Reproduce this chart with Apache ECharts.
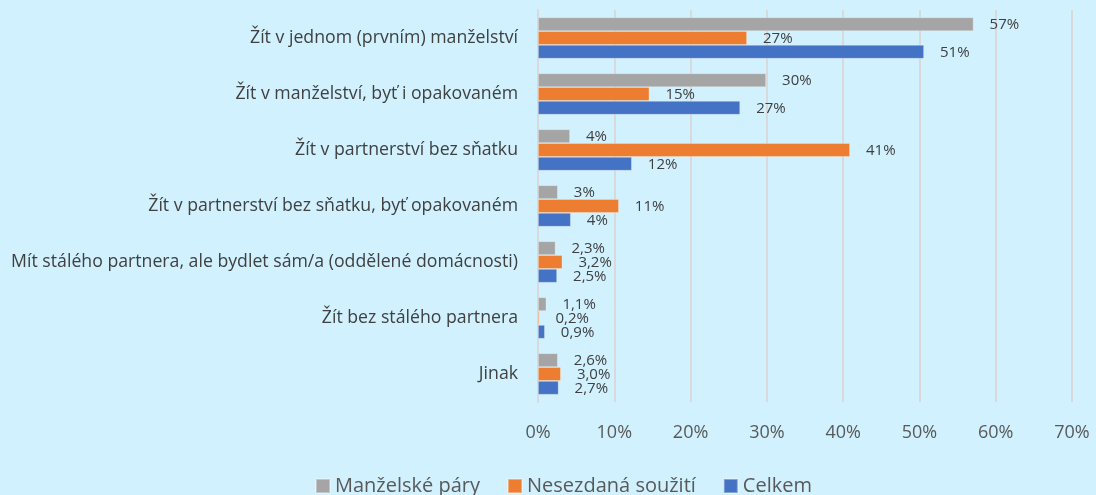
<!DOCTYPE html>
<html>
<head>
<meta charset="utf-8">
<script src="https://cdn.jsdelivr.net/npm/echarts@6/dist/echarts.min.js"></script>
<style>
html,body{margin:0;padding:0;background:#D0F1FD;}
#c{width:1096px;height:495px;}
</style>
</head>
<body>
<div id="c"></div>
<script>
var categories = [
  'Žít v jednom (prvním) manželství',
  'Žít v manželství, byť i opakovaném',
  'Žít v partnerství bez sňatku',
  'Žít v partnerství bez sňatku, byť opakovaném',
  'Mít stálého partnera, ale bydlet sám/a (oddělené domácnosti)',
  'Žít bez stálého partnera',
  'Jinak'
];
var labelDecimals = [0, 0, 0, 0, 1, 1, 1];
var seriesNames = ['Manželské páry', 'Nesezdaná soužití', 'Celkem'];
var manzelske = [57.1, 29.9, 4.2, 2.6, 2.3, 1.1, 2.6];
var nesezdana = [27.4, 14.6, 40.9, 10.6, 3.2, 0.2, 3.0];
var celkem = [50.6, 26.5, 12.3, 4.3, 2.5, 0.9, 2.7];
var xTicks = [0, 10, 20, 30, 40, 50, 60, 70];
var colors = ['#A5A5A5', '#ED7D31', '#4472C4'];

var FONT = '"Open Sans", "Noto Sans", sans-serif';
function fmt(p) {
  var d = labelDecimals[p.dataIndex];
  return p.value.toFixed(d).replace('.', ',') + '%';
}
function mk(name, data, color) {
  return {
    name: name,
    type: 'bar',
    data: data,
    barGap: '0%',
    barCategoryGap: '26%',
    itemStyle: { color: color, borderColor: 'rgba(255,255,255,0.35)', borderWidth: 0.8 },
    label: {
      show: true,
      position: 'right',
      distance: 16,
      offset: [0, 1],
      formatter: fmt,
      color: '#404040',
      fontSize: 15,
      fontFamily: FONT
    }
  };
}
var chart = echarts.init(document.getElementById('c'), null, { renderer: 'canvas' });
chart.setOption({
  backgroundColor: '#D0F1FD',
  animation: false,
  color: colors,
  grid: { left: 538, right: 24, top: 10, bottom: 93, containLabel: false },
  xAxis: {
    type: 'value',
    min: xTicks[0],
    max: xTicks[xTicks.length - 1],
    interval: 10,
    axisLine: { show: false },
    axisTick: { show: false },
    splitLine: { lineStyle: { color: '#D9D9D9', width: 2 } },
    axisLabel: {
      formatter: '{value}%',
      color: '#595959',
      fontSize: 18,
      fontFamily: FONT,
      margin: 22
    }
  },
  yAxis: {
    type: 'category',
    inverse: true,
    data: categories,
    axisLine: { show: true, lineStyle: { color: '#D9D9D9', width: 2 } },
    axisTick: { show: false },
    axisLabel: {
      color: '#404040',
      fontSize: 17.7,
      fontFamily: FONT,
      margin: 20
    }
  },
  legend: {
    data: seriesNames,
    top: 471,
    left: 310,
    itemWidth: 14,
    itemHeight: 14,
    itemGap: 27,
    icon: 'rect',
    textStyle: { color: '#595959', fontSize: 20, fontFamily: FONT }
  },
  series: [
    mk(seriesNames[0], manzelske, colors[0]),
    mk(seriesNames[1], nesezdana, colors[1]),
    mk(seriesNames[2], celkem, colors[2])
  ]
});
</script>
</body>
</html>
